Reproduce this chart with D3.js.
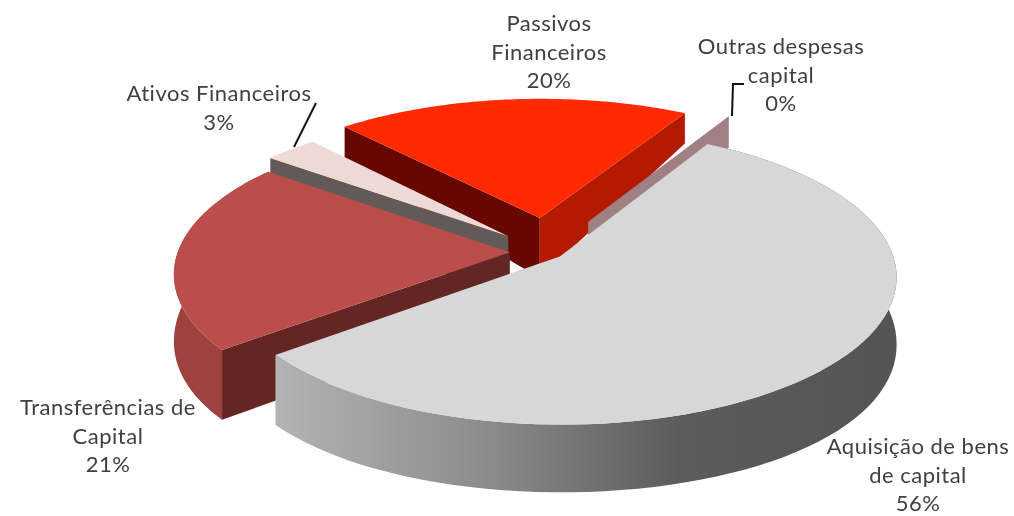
<!DOCTYPE html>
<html lang="en">
<head>
    <meta charset="UTF-8">
    <script src="https://cdnjs.cloudflare.com/ajax/libs/d3/7.8.5/d3.min.js"></script>
    <style>
        body { margin: 0; background: #fff; }
        svg { display: block; filter: blur(0.45px); }
        text { font-family: Lato, "Open Sans", sans-serif; font-size: 22px; letter-spacing: 0.5px; fill: #404040; text-anchor: middle; }
    </style>
</head>
<body>
    <svg id="chart" width="1014" height="516"></svg>
    <script>
        // pie order is clockwise, starting at the edge shared by the big slice and the 0% one
        let categories = ["Aquisição de bens de capital", "Transferências de Capital", "Ativos Financeiros", "Passivos Financeiros", "Outras despesas capital"];
        let values = [56, 21, 3, 20, 0];

        // how far each slice is pulled out of the pie, in radii
        let explode = [0.047, 0.115, 0.165, 0.245, 0.249];
        let topColors = ["#d7d7d7", "#bb4e4b", "#eed9d7", "#ff2a00", "#a08082"];
        // "none" for the faces that can't be seen from the camera
        let rimColors = ["url(#greyRim)", "#9f423f", "none", "none", "none"];
        let startWall = ["none", "#642624", "#625a58", "#660800", "none"];
        let endWall = ["none", "none", "none", "#b31a00", "#a08082"];
        let drawOrder = [3, 4, 2, 1, 0];

        // label lines, with centre x and first baseline
        let labels = [
            {lines: ["Passivos", "Financeiros", "20%"], x: 549, y: 31},
            {lines: ["Outras despesas", "capital", "0%"], x: 781, y: 54},
            {lines: ["Ativos Financeiros", "3%"], x: 219, y: 101},
            {lines: ["Transferências de", "Capital", "21%"], x: 108, y: 415},
            {lines: ["Aquisição de bens", "de capital", "56%"], x: 918, y: 454}
        ];

        // perspective set up
        let cx = 548, cy = 252, radiusX = 332, radiusY = 144, persp = 0.136;

        let svg = d3.select("#chart");

        let grad = svg.append("defs").append("linearGradient")
            .attr("id", "greyRim")
            .attr("gradientUnits", "userSpaceOnUse")
            .attr("x1", 274).attr("x2", 895).attr("y1", 0).attr("y2", 0);
        grad.append("stop").attr("offset", 0).attr("stop-color", "#b4b4b4");
        grad.append("stop").attr("offset", 0.35).attr("stop-color", "#8a8a8a");
        grad.append("stop").attr("offset", 0.65).attr("stop-color", "#5c5c5c");
        grad.append("stop").attr("offset", 1).attr("stop-color", "#545454");

        let pie = d3.pie().sort(null).startAngle(Math.PI / 6).endAngle(Math.PI / 6 + 2 * Math.PI);
        let arcs = pie(values);
        let line = d3.line().curve(d3.curveLinearClosed);

        // u, v are pie plane coordinates in radii (v points away from the viewer)
        function project(u, v) {
            let w = 1 + persp * v;
            return [cx + radiusX * u / w, cy - radiusY * v / w];
        }
        function wallHeight(v) {
            return 64.7 - 16.4 * v - 13.1 * v * v;
        }
        function planePoint(i, r, angle) {
            let mid = (arcs[i].startAngle + arcs[i].endAngle) / 2;
            return [explode[i] * Math.sin(mid) + r * Math.sin(angle),
                    explode[i] * Math.cos(mid) + r * Math.cos(angle)];
        }
        function topPoint(p) {
            return project(p[0], p[1]);
        }
        function bottomPoint(p) {
            let s = project(p[0], p[1]);
            return [s[0], s[1] + wallHeight(p[1])];
        }
        function rimPoints(i) {
            let a = arcs[i];
            return d3.range(0, 81).map(k => planePoint(i, 1, a.startAngle + (a.endAngle - a.startAngle) * k / 80));
        }
        function edgeWall(i, angle) {
            let apex = planePoint(i, 0, 0), rim = planePoint(i, 1, angle);
            return line([topPoint(apex), topPoint(rim), bottomPoint(rim), bottomPoint(apex)]);
        }

        let slices = svg.selectAll("g.slice")
            .data(drawOrder)
            .enter()
            .append("g")
            .attr("class", "slice");

        slices.append("path")
            .attr("fill", i => rimColors[i])
            .attr("d", i => {
                let rim = rimPoints(i);
                return line(rim.map(topPoint).concat(rim.map(bottomPoint).reverse()));
            });
        slices.append("path")
            .attr("fill", i => startWall[i])
            .attr("d", i => edgeWall(i, arcs[i].startAngle));
        slices.append("path")
            .attr("fill", i => endWall[i])
            .attr("d", i => edgeWall(i, arcs[i].endAngle));
        slices.append("path")
            .attr("fill", i => values[i] ? topColors[i] : "none")
            .attr("d", i => line([topPoint(planePoint(i, 0, 0))].concat(rimPoints(i).map(topPoint))));

        // leader lines for the two thin slices
        let pathLine = d3.line();
        svg.append("path")
            .attr("fill", "none").attr("stroke", "#111").attr("stroke-width", 2)
            .attr("d", pathLine([[316, 103], [294, 147]]));
        svg.append("path")
            .attr("fill", "none").attr("stroke", "#111").attr("stroke-width", 2)
            .attr("d", pathLine([[732, 116], [733, 84], [744, 84]]));

        svg.selectAll("text.label")
            .data(labels)
            .enter()
            .append("text")
            .attr("class", "label")
            .attr("y", d => d.y)
            .selectAll("tspan")
            .data(d => d.lines.map((t, k) => ({t: t, k: k, x: d.x})))
            .enter()
            .append("tspan")
            .attr("x", d => d.x)
            .attr("dy", d => d.k ? 28.7 : 0)
            .text(d => d.t);
    </script>
</body>
</html>
